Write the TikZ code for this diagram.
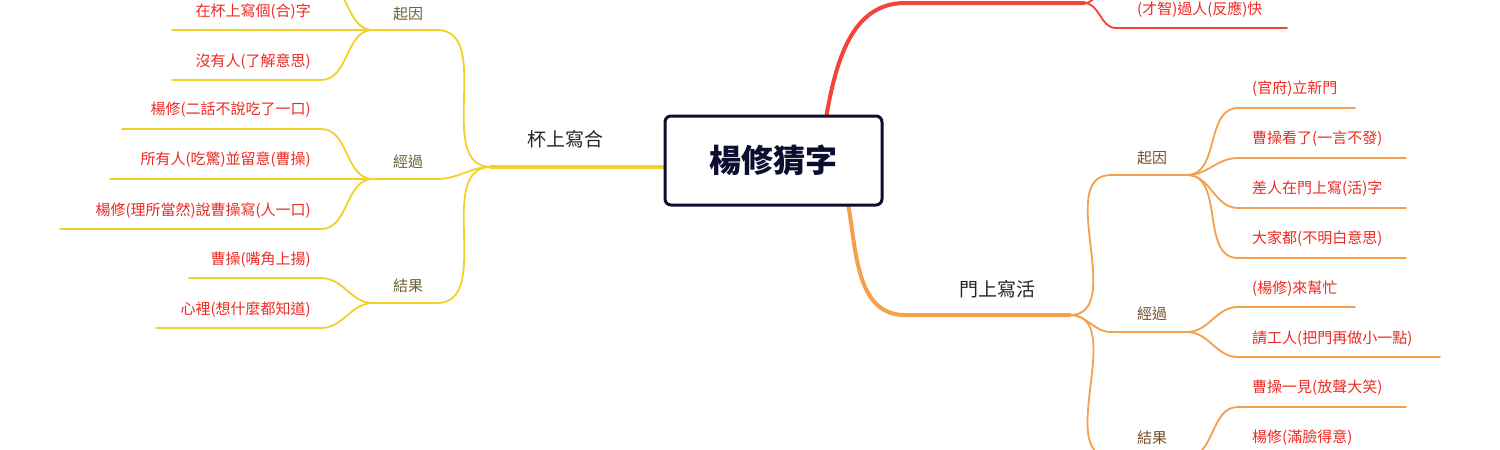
\documentclass[tikz,border=0pt]{standalone}
\usepackage{fontspec}
\newfontfamily\cjk{Noto Sans CJK TC}
\definecolor{yel}{HTML}{F2D12B}
\definecolor{ora}{HTML}{F5A04C}
\definecolor{redl}{HTML}{F4433A}
\definecolor{redt}{HTML}{EE2A24}
\definecolor{oliv}{HTML}{6E6230}
\definecolor{brn}{HTML}{74502E}
\definecolor{navy}{HTML}{0D0D30}
\tikzset{
 leaf/.style={font=\cjk\fontsize{15}{15}\selectfont, text=redt, inner sep=0pt},
 cat/.style={font=\cjk\fontsize{15}{15}\selectfont, inner sep=0pt},
 mainb/.style={font=\cjk\fontsize{19}{19}\selectfont, text=black!85, inner sep=0pt},
 thin/.style={line width=1.8pt, line cap=round},
 thick/.style={line width=4pt, line cap=round},
}
\begin{document}
\begin{tikzpicture}[x=1pt,y=-1pt]
\useasboundingbox (0,0) rectangle (1500,450);
\clip (0,0) rectangle (1500,450);
\fill[white] (0,0) rectangle (1500,450);
% ---------- left (yellow)
\coordinate (LJ) at (491,167);
\coordinate (LBox) at (664,167);
\coordinate (Lq1) at (437,30); \coordinate (Lq1e) at (373,30);
\coordinate (Lq2) at (437,179); \coordinate (Lq2e) at (373,179);
\coordinate (Lq3) at (437,303); \coordinate (Lq3e) at (373,303);
\draw[yel,thick] (LBox) -- (LJ);
\draw[yel,thin] (LJ) to[out=180,in=0] (Lq1) -- (Lq1e);
\draw[yel,thin] (LJ) to[out=180,in=0] (Lq2) -- (Lq2e);
\draw[yel,thin] (LJ) to[out=180,in=0] (Lq3) -- (Lq3e);
\node[mainb] (lt) at (565,139) {杯上寫合};
\node[cat,text=oliv] (lc1) at (408,14) {起因};
\node[cat,text=oliv] (lc2) at (408,162) {經過};
\node[cat,text=oliv] (lc3) at (408,286) {結果};
% 起因 children
\coordinate (a0s) at (321,-20); \coordinate (a0e) at (172,-20);
\coordinate (a1s) at (321,30); \coordinate (a1e) at (172,30);
\coordinate (a2s) at (321,80); \coordinate (a2e) at (172,80);
\draw[yel,thin] (Lq1e) to[out=180,in=0] (a0s) -- (a0e);
\draw[yel,thin] (Lq1e) -- (a1s) -- (a1e);
\draw[yel,thin] (Lq1e) to[out=180,in=0] (a2s) -- (a2e);
\node[leaf,anchor=east] (t1) at (311,12) {在杯上寫個(合)字};
\node[leaf,anchor=east] (t2) at (311,62) {沒有人(了解意思)};
% 經過 children
\coordinate (b1s) at (321,129); \coordinate (b1e) at (122,129);
\coordinate (b2e) at (110,179);
\coordinate (b3s) at (321,229); \coordinate (b3e) at (60,229);
\draw[yel,thin] (Lq2e) to[out=180,in=0] (b1s) -- (b1e);
\draw[yel,thin] (Lq2e) -- (b2e);
\draw[yel,thin] (Lq2e) to[out=180,in=0] (b3s) -- (b3e);
\node[leaf,anchor=east] (t3) at (311,110) {楊修(二話不說吃了一口)};
\node[leaf,anchor=east] (t4) at (311,160) {所有人(吃驚)並留意(曹操)};
\node[leaf,anchor=east] (t5) at (311,211) {楊修(理所當然)說曹操寫(人一口)};
% 結果 children
\coordinate (c1s) at (321,278); \coordinate (c1e) at (189,278);
\coordinate (c2s) at (321,328); \coordinate (c2e) at (156,328);
\draw[yel,thin] (Lq3e) to[out=180,in=0] (c1s) -- (c1e);
\draw[yel,thin] (Lq3e) to[out=180,in=0] (c2s) -- (c2e);
\node[leaf,anchor=east] (t6) at (311,260) {曹操(嘴角上揚)};
\node[leaf,anchor=east] (t7) at (311,310) {心裡(想什麼都知道)};
% ---------- red (top)
\coordinate (Rs) at (826,118);
\coordinate (R1) at (905,3); \coordinate (RJ) at (1084,3);
\coordinate (R2) at (1116,28); \coordinate (R2e) at (1287,28);
\coordinate (R0) at (1116,-22); \coordinate (R0e) at (1287,-22);
\draw[redl,thick] (Rs) to[out=80,in=180] (R1) -- (RJ);
\draw[redl,thin] (RJ) to[out=0,in=180] (R2) -- (R2e);
\draw[redl,thin] (RJ) to[out=0,in=180] (R0) -- (R0e);
\node[leaf,anchor=west] (r1) at (1137,10) {(才智)過人(反應)快};
% ---------- orange
\coordinate (Os) at (848,203);
\coordinate (O1) at (905,315); \coordinate (OJ) at (1070,315);
\draw[ora,thick] (Os) to[out=-80,in=180] (O1) -- (OJ);
\node[mainb] (ot) at (997,289) {門上寫活};
\coordinate (Oq1) at (1111,175); \coordinate (Oq1e) at (1187,175);
\coordinate (Oq2) at (1111,332); \coordinate (Oq2e) at (1187,332);
\coordinate (Oq3) at (1111,457); \coordinate (Oq3e) at (1187,457);
\draw[ora,thin] (OJ) to[out=0,in=180] (Oq1) -- (Oq1e);
\draw[ora,thin] (OJ) to[out=0,in=180] (Oq2) -- (Oq2e);
\draw[ora,thin] (OJ) to[out=0,in=180] (Oq3) -- (Oq3e);
\node[cat,text=brn] (oc1) at (1152,158) {起因};
\node[cat,text=brn] (oc2) at (1152,314) {經過};
\node[cat,text=brn] (oc3) at (1152,438) {結果};
\foreach \y/\e [count=\i] in {108/1355,158/1406,208/1406,258/1406}{
  \coordinate (d\i s) at (1238,\y); \coordinate (d\i e) at (\e,\y);
  \draw[ora,thin] (Oq1e) to[out=0,in=180] (d\i s) -- (d\i e);
}
\node[leaf,anchor=west] (u1) at (1252,89) {(官府)立新門};
\node[leaf,anchor=west] (u2) at (1252,139) {曹操看了(一言不發)};
\node[leaf,anchor=west] (u3) at (1252,189) {差人在門上寫(活)字};
\node[leaf,anchor=west] (u4) at (1252,239) {大家都(不明白意思)};
\coordinate (e1s) at (1238,307); \coordinate (e1e) at (1355,307);
\coordinate (e2s) at (1238,357); \coordinate (e2e) at (1440,357);
\draw[ora,thin] (Oq2e) to[out=0,in=180] (e1s) -- (e1e);
\draw[ora,thin] (Oq2e) to[out=0,in=180] (e2s) -- (e2e);
\node[leaf,anchor=west] (u5) at (1252,289) {(楊修)來幫忙};
\node[leaf,anchor=west] (u6) at (1252,339) {請工人(把門再做小一點)};
\coordinate (f1s) at (1238,407); \coordinate (f1e) at (1406,407);
\coordinate (f2s) at (1238,457); \coordinate (f2e) at (1406,457);
\draw[ora,thin] (Oq3e) to[out=0,in=180] (f1s) -- (f1e);
\draw[ora,thin] (Oq3e) -- (f2e);
\node[leaf,anchor=west] (u7) at (1252,388) {曹操一見(放聲大笑)};
\node[leaf,anchor=west] (u8) at (1252,438) {楊修(滿臉得意)};
% ---------- center
\node[draw=navy, line width=3pt, rounded corners=6pt, fill=white,
  minimum width=217pt, minimum height=89pt, font=\cjk\bfseries\fontsize{32}{32}\selectfont,
  text=navy] (root) at (773.5,160.5) {楊修猜字};
\end{tikzpicture}
\end{document}
